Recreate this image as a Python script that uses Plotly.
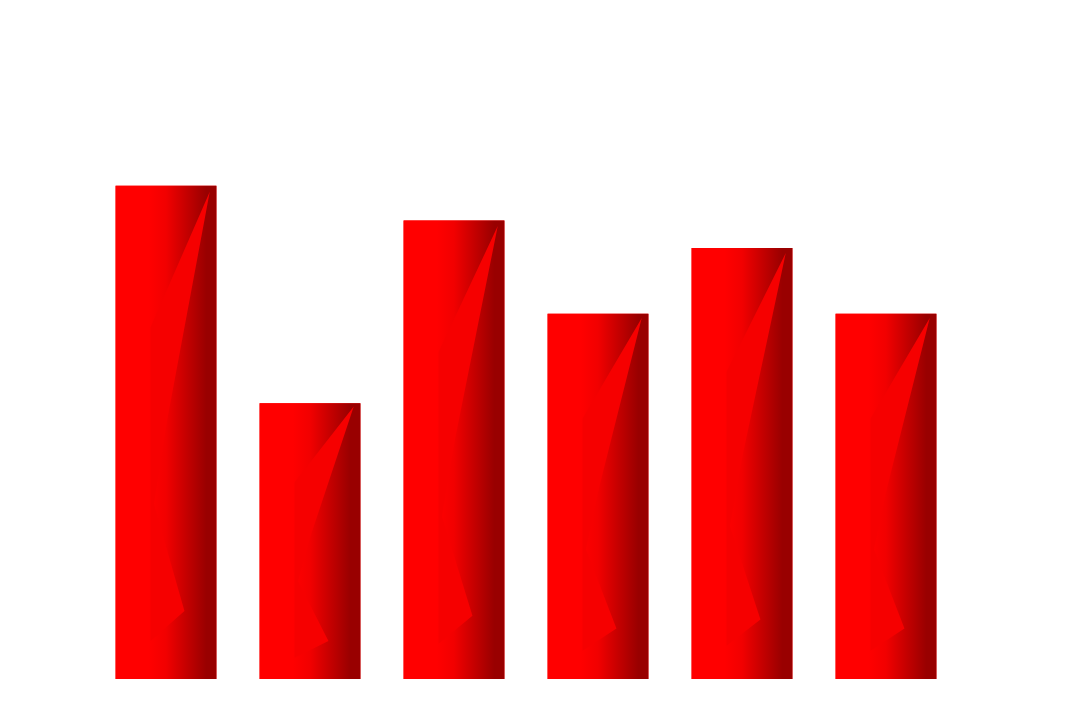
import plotly.graph_objects as go

# ===== Data =====
categories = [0, 1, 2, 3, 4, 5]
values = [27, 15.1, 25.1, 20, 23.6, 20]

BAR_W = 0.7

# highlight shape, as fractions of bar (u: from left, v: from bottom)
shine_u = [0.934, 0.51, 0.38, 0.683, 0.347, 0.347, 0.934]
shine_v = [0.988, 0.523, 0.355, 0.138, 0.077, 0.713, 0.988]

fig = go.Figure()

# base bars
fig.add_trace(go.Bar(
    x=categories, y=values, width=BAR_W,
    marker=dict(color="#ff0000", line=dict(width=0)),
    hoverinfo="skip"
))

# gradient overlay + highlight on each bar
for x, v in zip(categories, values):
    x0 = x - BAR_W / 2
    x1 = x + BAR_W / 2
    fig.add_trace(go.Scatter(
        x=[x0, x1, x1, x0, x0], y=[0, 0, v, v, 0],
        mode="lines", line=dict(width=0), fill="toself",
        fillgradient=dict(
            type="horizontal",
            colorscale=[[0, "#ff0000"], [0.33, "#ff0000"], [0.5, "#f20000"],
                        [0.9, "#990000"], [1, "#990000"]]
        ),
        hoverinfo="skip", showlegend=False
    ))
    fig.add_trace(go.Scatter(
        x=[x0 + u * BAR_W for u in shine_u],
        y=[s * v for s in shine_v],
        mode="lines", line=dict(width=0), fill="toself",
        fillcolor="rgb(246,0,0)",
        hoverinfo="skip", showlegend=False
    ))

fig.update_xaxes(visible=False, range=[-0.5, 5.5])
fig.update_yaxes(visible=False, range=[0, 30])

fig.update_layout(
    width=1080, height=720,
    margin=dict(l=86, r=130, t=123, b=49),
    plot_bgcolor="white", paper_bgcolor="white",
    showlegend=False
)

fig.write_html("out.html")
